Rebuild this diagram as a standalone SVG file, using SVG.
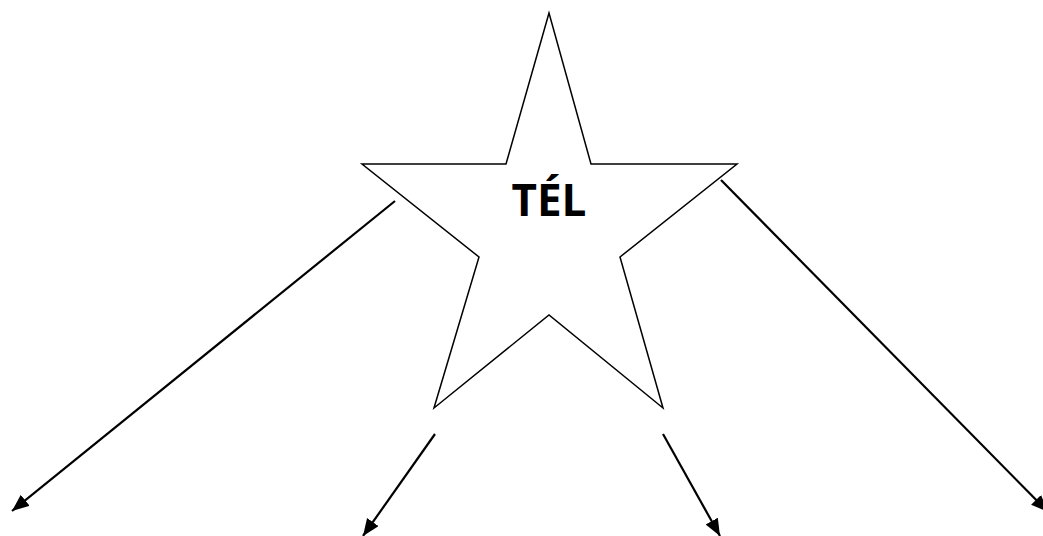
<svg xmlns="http://www.w3.org/2000/svg" width="1043" height="536" viewBox="0 0 1043 536">
<style>
.star{fill:#fff;stroke:#000;stroke-width:1.5;stroke-linejoin:miter}
.conn{stroke:#000;stroke-width:2.2;fill:none}
.lbl{font-family:"Open Sans","Liberation Sans",sans-serif;font-weight:bold;font-size:44px;fill:#000}
</style>
<defs>
<marker id="ah" markerUnits="userSpaceOnUse" markerWidth="20" markerHeight="16" refX="17" refY="7" orient="auto">
<path d="M0,0 L17,7 L0,14 Z" fill="#000"/>
</marker>
</defs>
<rect width="1043" height="536" fill="#fff"/>
<g id="star">
<polygon class="star" points="549,13 506,164 362,164 479,257 434,408 549,315 663,408 620,257 737,164 591,164"/>
<text class="lbl" x="549" y="216" text-anchor="middle">TÉL</text>
</g>
<g id="connectors">
<line class="conn" x1="395" y1="201" x2="12" y2="511" marker-end="url(#ah)"/>
<line class="conn" x1="435" y1="434" x2="363" y2="536" marker-end="url(#ah)"/>
<line class="conn" x1="663" y1="434" x2="720" y2="536" marker-end="url(#ah)"/>
<line class="conn" x1="721" y1="180" x2="1048" y2="512" marker-end="url(#ah)"/>
</g>
</svg>
